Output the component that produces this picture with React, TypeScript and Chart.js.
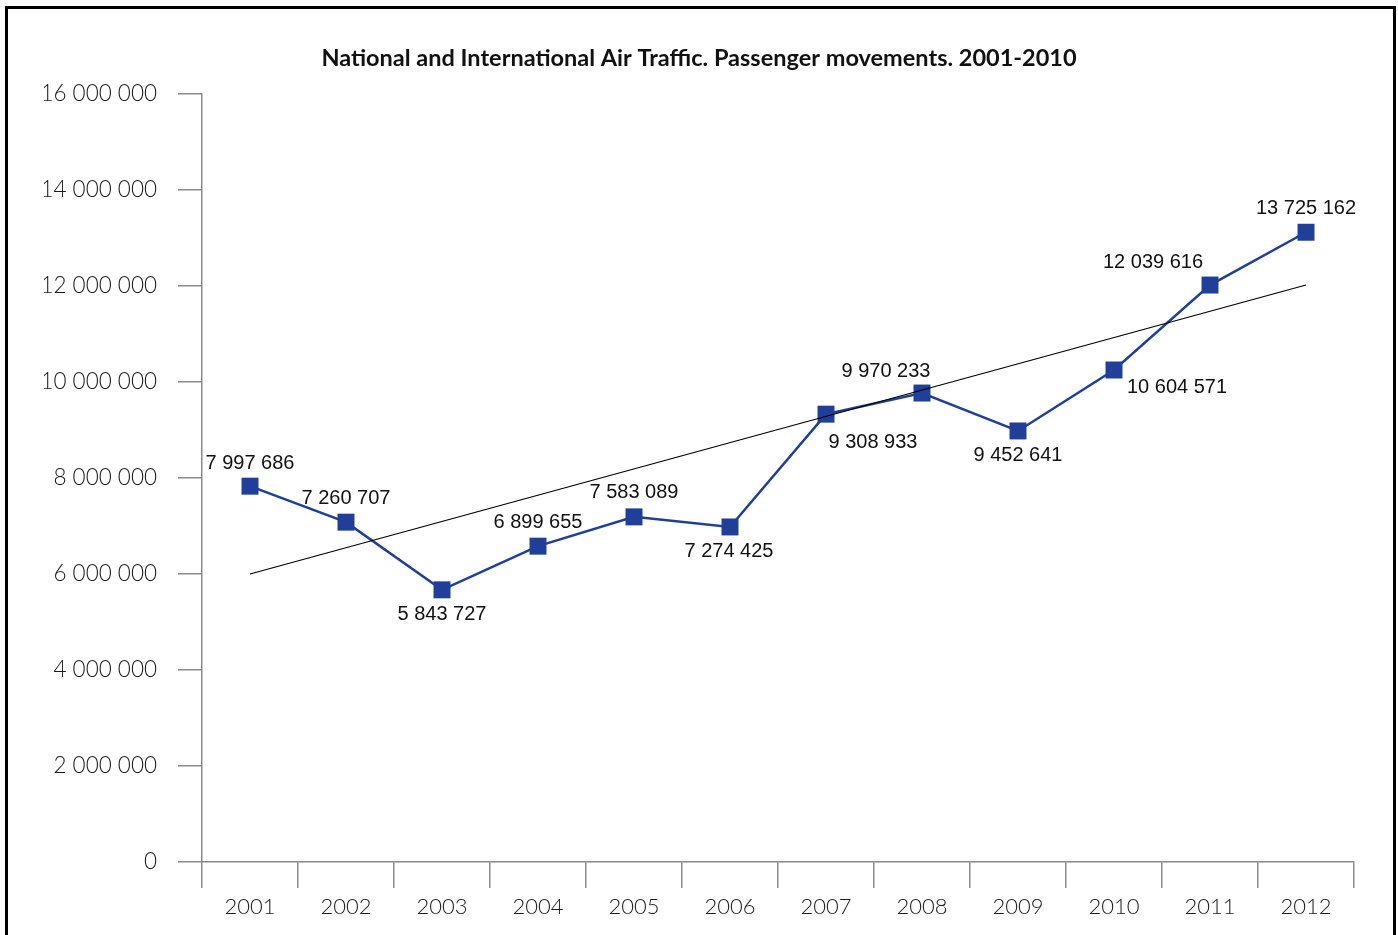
import React, { useEffect, useRef } from "react";
import { Chart, registerables } from "chart.js";

Chart.register(...registerables);

const chartTitle = "National and International Air Traffic. Passenger movements. 2001-2010";

const years = ["2001", "2002", "2003", "2004", "2005", "2006", "2007", "2008", "2009", "2010", "2011", "2012"];

const passengers = [
  7830000, 7080000, 5670000, 6580000, 7190000, 6980000,
  9330000, 9770000, 8980000, 10250000, 12020000, 13120000,
];

const valueLabels = [
  "7 997 686", "7 260 707", "5 843 727", "6 899 655", "7 583 089", "7 274 425",
  "9 308 933", "9 970 233", "9 452 641", "10 604 571", "12 039 616", "13 725 162",
];

const trendValues = [6000000, null, null, null, null, null, null, null, null, null, null, 12020000];

const yMin = 0;
const yMax = 16000000;
const yStep = 2000000;

// label placement relative to each marker (dx, dy in px)
const labelPlacement: [number, number][] = [
  [0, -23], [0, -24], [0, 25], [0, -24], [0, -24], [-1, 25],
  [47, 28], [-36, -22], [0, 25], [63, 17], [-57, -23], [0, -24],
];

const BLUE = "#1F3F98";
const AXIS_GRAY = "#8a8a8a";

function formatSpaced(v: number): string {
  const s = Math.round(v).toString();
  return s.replace(/\B(?=(\d{3})+(?!\d))/g, " ");
}

const dataLabelPlugin = {
  id: "dataLabels",
  afterDatasetsDraw(chart: any) {
    const meta = chart.getDatasetMeta(1);
    const ctx = chart.ctx;
    ctx.save();
    ctx.font = "20px 'Liberation Sans', Arial, sans-serif";
    ctx.fillStyle = "#111";
    ctx.textAlign = "center";
    ctx.textBaseline = "middle";
    meta.data.forEach((pt: any, i: number) => {
      const [dx, dy] = labelPlacement[i];
      ctx.fillText(valueLabels[i], pt.x + dx, pt.y + dy);
    });
    ctx.restore();
  },
};

export default function App() {
  const canvasRef = useRef<HTMLCanvasElement | null>(null);

  useEffect(() => {
    if (!canvasRef.current) return;
    const chart = new Chart(canvasRef.current, {
      type: "line",
      data: {
        labels: years,
        datasets: [
          {
            label: "Trend",
            data: trendValues,
            borderColor: "#000",
            borderWidth: 1.2,
            pointRadius: 0,
            spanGaps: true,
            fill: false,
          },
          {
            label: "Passengers",
            data: passengers,
            borderColor: BLUE,
            backgroundColor: BLUE,
            borderWidth: 2.5,
            pointStyle: "rect",
            pointRadius: 12,
            pointBorderWidth: 0,
            pointBackgroundColor: BLUE,
            fill: false,
            tension: 0,
          },
        ],
      },
      options: {
        responsive: false,
        animation: false,
        layout: { padding: { left: 44, right: 44, top: 0, bottom: 11 } },
        plugins: {
          legend: { display: false },
          tooltip: { enabled: false },
          title: {
            display: true,
            text: chartTitle,
            color: "#111",
            font: { family: "Lato, 'Open Sans', sans-serif", size: 23.5, weight: "bold" },
            padding: { top: 44, bottom: 21.8 },
          },
        },
        scales: {
          x: {
            type: "category",
            offset: true,
            grid: {
              offset: true,
              drawOnChartArea: false,
              drawTicks: true,
              tickLength: 26,
              color: AXIS_GRAY,
              lineWidth: 1.5,
            },
            border: { color: AXIS_GRAY, width: 1.5 },
            ticks: {
              padding: 6,
              color: "#1a1a1a",
              font: { family: "Lato, 'Open Sans', sans-serif", size: 22, weight: 300 },
              maxRotation: 0,
            },
            afterFit: (s: any) => {
              s.height = 62;
            },
          },
          y: {
            min: yMin,
            max: yMax,
            grid: {
              drawOnChartArea: false,
              drawTicks: true,
              tickLength: 24,
              color: AXIS_GRAY,
              lineWidth: 1.5,
            },
            border: { color: AXIS_GRAY, width: 1.5 },
            ticks: {
              stepSize: yStep,
              padding: 21,
              color: "#1a1a1a",
              font: { family: "Lato, 'Open Sans', sans-serif", size: 22.5, weight: 300 },
              callback: (v: any) => formatSpaced(Number(v)),
            },
            afterFit: (s: any) => {
              s.width = 158;
            },
          },
        },
      },
      plugins: [dataLabelPlugin],
    });
    return () => chart.destroy();
  }, []);

  return (
    <div
      style={{
        position: "fixed",
        left: 0,
        top: 0,
        width: 1398,
        height: 935,
        overflow: "hidden",
        background: "#fff",
      }}
    >
      <div
        style={{
          position: "absolute",
          left: 5,
          top: 6,
          width: 1391,
          height: 1000,
          border: "3px solid #000",
          boxSizing: "border-box",
        }}
      />
      <canvas
        ref={canvasRef}
        width={1398}
        height={935}
        style={{ position: "absolute", left: 0, top: 0, width: 1398, height: 935 }}
      />
    </div>
  );
}
